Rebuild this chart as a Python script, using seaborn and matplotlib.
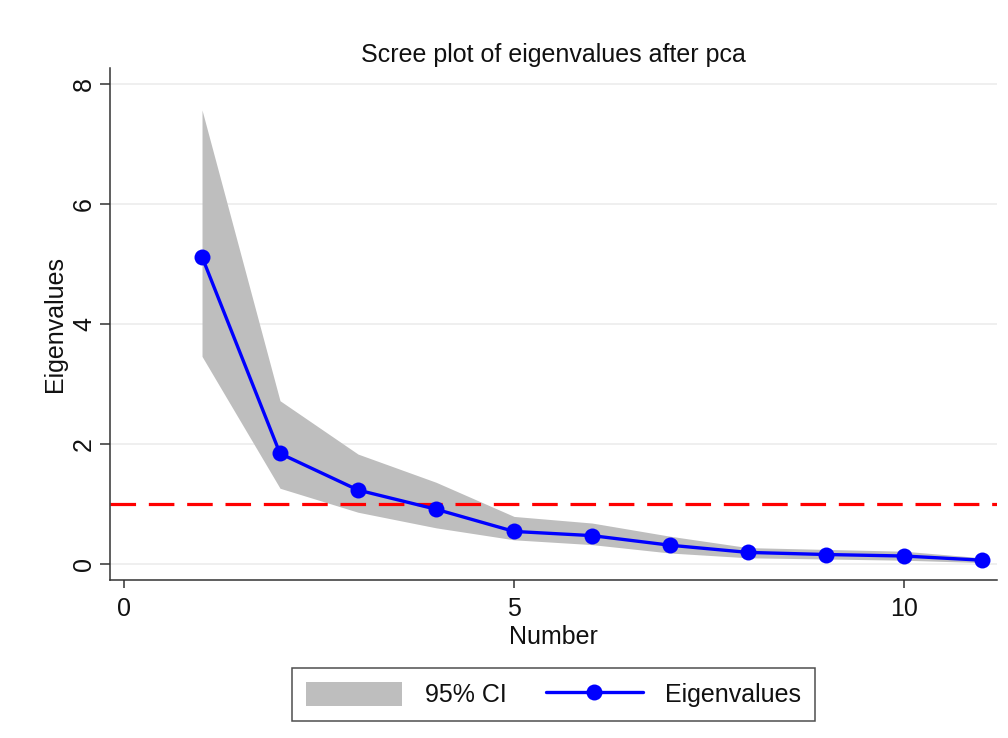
import matplotlib
matplotlib.use("Agg")
import matplotlib.pyplot as plt
import seaborn as sns
import numpy as np
import pandas as pd
from matplotlib.patches import Patch
from matplotlib.lines import Line2D

# ---- data ----
number = [1, 2, 3, 4, 5, 6, 7, 8, 9, 10, 11]
eigenvalues = [5.12, 1.84, 1.23, 0.91, 0.54, 0.47, 0.31, 0.19, 0.155, 0.13, 0.06]
ci_upper = [7.57, 2.72, 1.83, 1.36, 0.79, 0.68, 0.46, 0.27, 0.24, 0.21, 0.10]
ci_lower = [3.46, 1.26, 0.86, 0.60, 0.40, 0.32, 0.18, 0.10, 0.08, 0.06, 0.02]
x_ticks = [0, 5, 10]
y_ticks = [0, 2, 4, 6, 8]
threshold = 1.0

title = "Scree plot of eigenvalues after pca"
x_label = "Number"
y_label = "Eigenvalues"
ci_label = "95% CI"
line_label = "Eigenvalues"

df = pd.DataFrame({"Number": number, "Eigenvalues": eigenvalues,
                   "upper": ci_upper, "lower": ci_lower})

sns.set_theme(style="white")
plt.rcParams["font.family"] = ["Liberation Sans", "DejaVu Sans"]
TXT = "#111111"
plt.rcParams["text.color"] = TXT
plt.rcParams["axes.labelcolor"] = TXT
plt.rcParams["xtick.color"] = TXT
plt.rcParams["ytick.color"] = TXT

fig = plt.figure(figsize=(10.08, 7.38), dpi=100)
fig.patch.set_facecolor("white")
ax = fig.add_axes([0.1091, 0.2141, 0.989 - 0.1091, 0.9079 - 0.2141])

FS = 18
BAND = "#bebebe"
BLUE = "#0000ff"
LW = 2.4
MS = 11.5

for yv in y_ticks:
    ax.axhline(yv, color="#ececec", lw=1.2, zorder=0)

ax.fill_between(df["Number"], df["lower"], df["upper"], color=BAND,
                lw=0, zorder=1)
ax.axhline(threshold, color="#ff0000", lw=2.3, dashes=(8.0, 4.0), zorder=2)
sns.lineplot(data=df, x="Number", y="Eigenvalues", ax=ax, color=BLUE,
             lw=LW, marker="o", markersize=MS, markeredgewidth=0,
             zorder=3, legend=False)

ax.set_xlim(-0.18, 11.19)
ax.set_ylim(-0.27, 8.27)
ax.set_xticks(x_ticks)
ax.set_yticks(y_ticks)
ax.set_xticklabels([str(t) for t in x_ticks], fontsize=FS)
ax.set_yticklabels([str(t) for t in y_ticks], fontsize=FS, rotation=90,
                   va="center")
ax.tick_params(axis="x", direction="out", length=6, width=1.1,
               color="#333333", pad=6, bottom=True)
ax.tick_params(axis="y", direction="out", length=7.5, width=1.1,
               color="#333333", pad=2.5, left=True)

for s in ["top", "right"]:
    ax.spines[s].set_visible(False)
for s in ["left", "bottom"]:
    ax.spines[s].set_color("#333333")
    ax.spines[s].set_linewidth(1.1)

ax.set_xlabel(x_label, fontsize=FS, labelpad=3)
ax.set_ylabel(y_label, fontsize=FS, labelpad=4)
ax.set_title(title, fontsize=FS, pad=4)

handles = [Patch(facecolor=BAND, edgecolor="none", label=ci_label),
           Line2D([0], [0], color=BLUE, lw=LW, marker="o", markersize=MS,
                  markeredgewidth=0, label=line_label)]
leg = fig.legend(handles=handles, loc="center",
                 bbox_to_anchor=(0.549, 0.0589), ncol=2, fontsize=FS,
                 frameon=True, fancybox=False, edgecolor="#222222",
                 handlelength=3.85, handleheight=1.15, handletextpad=0.9,
                 columnspacing=1.6, borderpad=0.55)
leg.get_frame().set_linewidth(1.1)

fig.savefig("out.png", dpi=100, facecolor="white")
